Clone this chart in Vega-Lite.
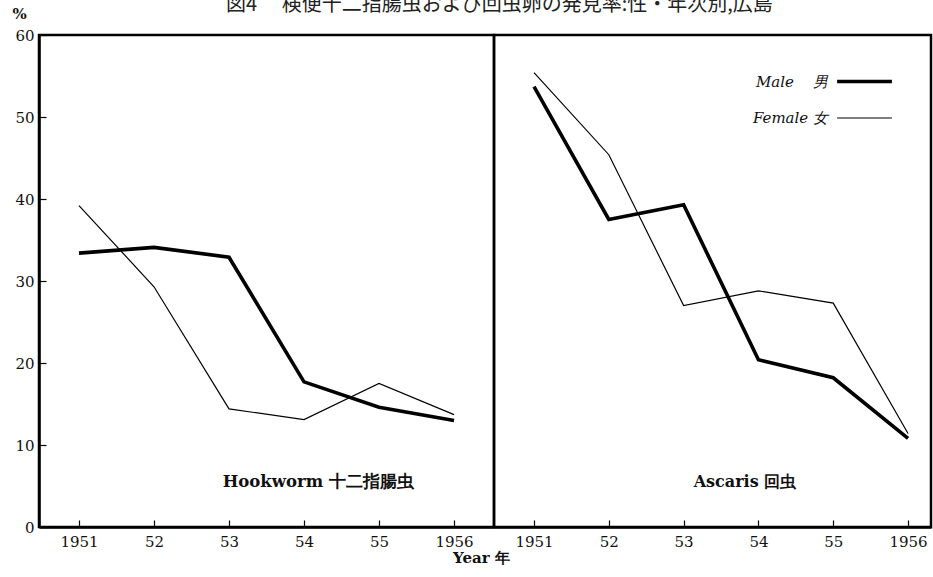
{
  "$schema": "https://vega.github.io/schema/vega-lite/v6.json",
  "padding": {"left": 10, "top": -6, "right": 0, "bottom": 0},
  "bounds": "flush",
  "background": "white",
  "title": {
    "text": "図4　 検便十二指腸虫および回虫卵の発見率:性・年次別,広島",
    "font": "Noto Sans CJK JP",
    "fontSize": 20,
    "fontWeight": "normal",
    "color": "#222",
    "offset": -10,
    "dx": 28,
    "anchor": "middle"
  },
  "data": {
    "values": [
      {"parasite": "Hookworm", "sex": "Male", "year": 1951, "pct": 33.4},
      {"parasite": "Hookworm", "sex": "Male", "year": 1952, "pct": 34.1},
      {"parasite": "Hookworm", "sex": "Male", "year": 1953, "pct": 32.9},
      {"parasite": "Hookworm", "sex": "Male", "year": 1954, "pct": 17.7},
      {"parasite": "Hookworm", "sex": "Male", "year": 1955, "pct": 14.6},
      {"parasite": "Hookworm", "sex": "Male", "year": 1956, "pct": 13.0},
      {"parasite": "Hookworm", "sex": "Female", "year": 1951, "pct": 39.2},
      {"parasite": "Hookworm", "sex": "Female", "year": 1952, "pct": 29.3},
      {"parasite": "Hookworm", "sex": "Female", "year": 1953, "pct": 14.4},
      {"parasite": "Hookworm", "sex": "Female", "year": 1954, "pct": 13.1},
      {"parasite": "Hookworm", "sex": "Female", "year": 1955, "pct": 17.5},
      {"parasite": "Hookworm", "sex": "Female", "year": 1956, "pct": 13.7},
      {"parasite": "Ascaris", "sex": "Male", "year": 1951, "pct": 53.7},
      {"parasite": "Ascaris", "sex": "Male", "year": 1952, "pct": 37.5},
      {"parasite": "Ascaris", "sex": "Male", "year": 1953, "pct": 39.3},
      {"parasite": "Ascaris", "sex": "Male", "year": 1954, "pct": 20.4},
      {"parasite": "Ascaris", "sex": "Male", "year": 1955, "pct": 18.2},
      {"parasite": "Ascaris", "sex": "Male", "year": 1956, "pct": 10.8},
      {"parasite": "Ascaris", "sex": "Female", "year": 1951, "pct": 55.4},
      {"parasite": "Ascaris", "sex": "Female", "year": 1952, "pct": 45.4},
      {"parasite": "Ascaris", "sex": "Female", "year": 1953, "pct": 27.0},
      {"parasite": "Ascaris", "sex": "Female", "year": 1954, "pct": 28.8},
      {"parasite": "Ascaris", "sex": "Female", "year": 1955, "pct": 27.3},
      {"parasite": "Ascaris", "sex": "Female", "year": 1956, "pct": 11.4}
    ]
  },
  "spacing": 0,
  "resolve": {"scale": {"x": "independent"}, "legend": {"strokeWidth": "independent"}},
  "hconcat": [
    {
      "width": 455,
      "height": 492,
      "layer": [
        {
          "transform": [{"filter": "datum.parasite == 'Hookworm'"}],
          "mark": {"type": "line", "color": "black"},
          "encoding": {
            "x": {
              "field": "year", "type": "quantitative",
              "scale": {"domain": [1950.467, 1956.533], "nice": false, "zero": false},
              "axis": {
                "values": [1951, 1952, 1953, 1954, 1955, 1956],
                "labelExpr": "datum.value == 1951 || datum.value == 1956 ? '' + datum.value : substring('' + datum.value, 2)",
                "title": "Year 年",
                "titleX": 442, "titleY": 30, "titleBaseline": "middle", "titleAlign": "center"
              }
            },
            "y": {
              "field": "pct", "type": "quantitative",
              "scale": {"domain": [0, 60], "nice": false},
              "axis": {
                "values": [0, 10, 20, 30, 40, 50, 60],
                "title": "%", "titleAngle": 0, "titleX": -20, "titleY": -22,
                "titleBaseline": "middle", "titleAlign": "center"
              }
            },
            "strokeWidth": {
              "field": "sex", "type": "nominal",
              "scale": {"domain": ["Male", "Female"], "range": [3.6, 1.2]},
              "legend": null
            }
          }
        },
        {
          "data": {"values": [{"label": "Hookworm  十二指腸虫", "x": 1954.19, "y": 5.5}]},
          "mark": {"type": "text", "font": "DejaVu Serif", "fontWeight": "bold", "fontSize": 16.5, "color": "#111"},
          "encoding": {
            "text": {"field": "label"},
            "x": {"field": "x", "type": "quantitative"},
            "y": {"field": "y", "type": "quantitative"}
          }
        }
      ]
    },
    {
      "width": 437,
      "height": 492,
      "layer": [
        {
          "transform": [{"filter": "datum.parasite == 'Ascaris'"}],
          "mark": {"type": "line", "color": "black"},
          "encoding": {
            "x": {
              "field": "year", "type": "quantitative",
              "scale": {"domain": [1950.465, 1956.307], "nice": false, "zero": false},
              "axis": {
                "values": [1951, 1952, 1953, 1954, 1955, 1956],
                "labelExpr": "datum.value == 1951 || datum.value == 1956 ? '' + datum.value : substring('' + datum.value, 2)",
                "title": null
              }
            },
            "y": {
              "field": "pct", "type": "quantitative",
              "scale": {"domain": [0, 60], "nice": false},
              "axis": null
            },
            "strokeWidth": {
              "field": "sex", "type": "nominal",
              "scale": {"domain": ["Male", "Female"], "range": [3.6, 1.2]},
              "legend": {
                "title": null,
                "orient": "none",
                "legendX": 341,
                "legendY": 17,
                "symbolType": "stroke",
                "symbolSize": 3000,
                "symbolStrokeColor": "black",
                "labelFont": "DejaVu Serif",
                "labelFontStyle": "italic",
                "labelFontSize": 15,
                "labelColor": "#111",
                "labelAlign": "right",
                "labelOffset": -66,
                "labelExpr": "datum.value == 'Male' ? 'Male\u00a0\u00a0\u00a0\u00a0男' : 'Female 女'",
                "rowPadding": -28
              }
            }
          }
        },
        {
          "data": {"values": [{"label": "Ascaris 回虫", "x": 1953.82, "y": 5.5}]},
          "mark": {"type": "text", "font": "DejaVu Serif", "fontWeight": "bold", "fontSize": 16, "color": "#111"},
          "encoding": {
            "text": {"field": "label"},
            "x": {"field": "x", "type": "quantitative"},
            "y": {"field": "y", "type": "quantitative"}
          }
        }
      ]
    }
  ],
  "config": {
    "view": {"stroke": "black", "strokeWidth": 2.5},
    "axis": {
      "domainColor": "black",
      "domainWidth": 2.5,
      "tickColor": "black",
      "tickSize": -7,
      "tickWidth": 1.2,
      "labelFont": "DejaVu Serif",
      "labelFontSize": 15,
      "labelColor": "#111",
      "titleFont": "DejaVu Serif",
      "titleFontSize": 15,
      "titleFontWeight": "bold",
      "titleColor": "#111",
      "grid": false
    },
    "axisX": {"labelPadding": 14},
    "axisY": {"labelPadding": 12}
  }
}
